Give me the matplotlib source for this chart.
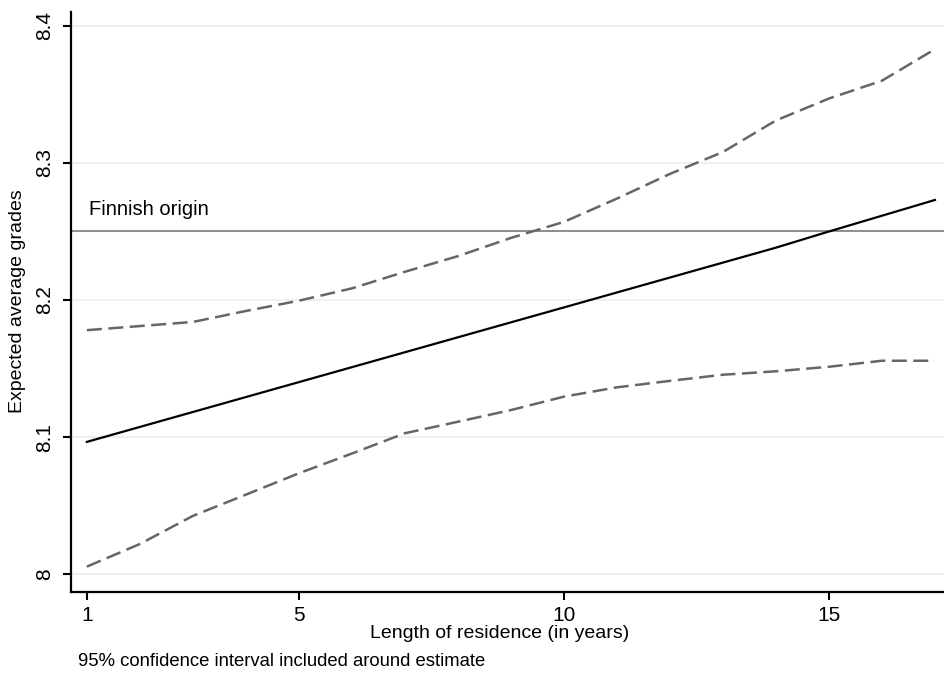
import numpy as np
import matplotlib.pyplot as plt

plt.rcParams['font.family'] = ['Liberation Sans', 'DejaVu Sans']

years = list(range(1, 18))
estimate = [8.0965, 8.1074, 8.1183, 8.1292, 8.1401, 8.1510, 8.1619, 8.1728, 8.1837,
            8.1946, 8.2055, 8.2164, 8.2273, 8.2382, 8.2500, 8.2615, 8.2730]
upper = [8.178, 8.181, 8.184, 8.192, 8.1995, 8.2085, 8.2206, 8.232, 8.2453,
         8.257, 8.274, 8.292, 8.308, 8.331, 8.347, 8.360, 8.383]
lower = [8.0055, 8.022, 8.0425, 8.058, 8.0736, 8.088, 8.1028, 8.1112, 8.1197,
         8.1295, 8.1363, 8.141, 8.1455, 8.148, 8.1513, 8.1557, 8.1557]
finnish = 8.25
xticks = [1, 5, 10, 15]
yticks = [8, 8.1, 8.2, 8.3, 8.4]
ytick_labels = ['8', '8.1', '8.2', '8.3', '8.4']

fig = plt.figure(figsize=(9.45, 6.77), dpi=100)
ax = fig.add_axes([0.0751, 0.1256, 0.9249, 0.8564])

for yv in yticks:
    ax.axhline(yv, color='#eaf2f2', lw=1.4, zorder=0)

ax.axhline(finnish, color='#909090', lw=1.5, zorder=1)
ax.text(1.04, 8.266, 'Finnish origin', fontsize=14.5, va='center', ha='left')

for ci in (upper, lower):
    ln, = ax.plot(years, ci, color='#666666', lw=1.8, zorder=2)
    ln.set_dashes((6.0, 2.6))
ax.plot(years, estimate, color='black', lw=1.6, zorder=3)

ax.set_xlim(0.70, 17.19)
ax.set_ylim(7.987, 8.41)
ax.set_xticks(xticks)
ax.set_xticklabels([str(t) for t in xticks])
ax.set_yticks(yticks)
ax.set_yticklabels(ytick_labels, rotation=90, va='center')
ax.tick_params(axis='both', length=6, width=1.5, labelsize=15, color='black')
ax.tick_params(axis='x', pad=4)
ax.tick_params(axis='y', pad=6)

for s in ('top', 'right'):
    ax.spines[s].set_visible(False)
for s in ('left', 'bottom'):
    ax.spines[s].set_linewidth(1.6)

fig.text(499.5 / 945, 1 - 634 / 677, 'Length of residence (in years)', fontsize=14,
         ha='center', va='center')
fig.text(18 / 945, 1 - 301 / 677, 'Expected average grades', fontsize=14,
         ha='center', va='center', rotation=90)
fig.text(78 / 945, 1 - 662 / 677, '95% confidence interval included around estimate',
         fontsize=13.3, ha='left', va='center')

fig.savefig('out.png', dpi=100)
